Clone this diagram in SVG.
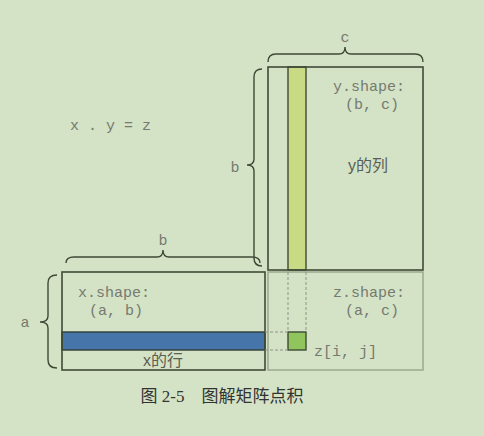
<svg xmlns="http://www.w3.org/2000/svg" width="484" height="436" viewBox="0 0 484 436">
<style>
.mat{fill:none;stroke:#3f4a36;stroke-width:1.6}
.brace{fill:none;stroke:#3f4a36;stroke-width:1.4}
.dash{fill:none;stroke:#8c9683;stroke-width:1;stroke-dasharray:3,2}
.mono{font-family:"Liberation Mono","DejaVu Sans Mono",monospace;font-size:15px;fill:#767a70}
.cjk{font-family:"Liberation Sans","Noto Sans CJK SC",sans-serif;font-size:16px;fill:#5a5e55}
.cap{font-family:"Liberation Serif","Noto Sans CJK SC",serif;font-size:17px;fill:#333}
</style>
<rect x="0" y="0" width="484" height="436" fill="#d4e3c6"/>
<text class="mono" x="70" y="130">x . y = z</text>
<g id="y">
<rect x="288" y="67" width="18" height="203" fill="#c8da84" stroke="#3f4a36" stroke-width="1.4"/>
<rect class="mat" x="268" y="67" width="155" height="203"/>
<text class="mono" x="333" y="91">y.shape:</text>
<text class="mono" x="345" y="109">(b, c)</text>
<text class="cjk" x="368" y="171" text-anchor="middle">y的列</text>
</g>
<g id="z">
<rect x="268" y="272" width="155" height="98" fill="none" stroke="#97a48c" stroke-width="1.4"/>
<rect x="288" y="332" width="18" height="18" fill="#90c45c" stroke="#3f4a36" stroke-width="1.4"/>
<text class="mono" x="333" y="297">z.shape:</text>
<text class="mono" x="345" y="315">(a, c)</text>
<text class="mono" x="314" y="356">z[i, j]</text>
</g>
<g id="x">
<rect x="62" y="332" width="203" height="18" fill="#4676a9" stroke="#2f3d36" stroke-width="1.4"/>
<rect class="mat" x="62" y="272" width="203" height="98"/>
<text class="mono" x="78" y="297">x.shape:</text>
<text class="mono" x="89" y="315">(a, b)</text>
<text class="cjk" x="163" y="366" text-anchor="middle">x的行</text>
</g>
<g id="connectors">
<path class="dash" d="M288 272V332M306 272V332M265 332H288M265 350H288"/>
<path class="brace" d="M268 62Q268 54 276 54H339Q345 54 345 47Q345 54 351 54H415Q423 54 423 62"/>
<path class="brace" d="M262 69Q254 69 254 77V159Q254 165 247 165Q254 165 254 171V258Q254 266 262 266"/>
<path class="brace" d="M66 263Q66 257 74 257H157Q163 257 163 250Q163 257 169 257H252Q260 257 260 263"/>
<path class="brace" d="M57 275Q48 275 48 283V316Q48 322 40 322Q48 322 48 328V360Q48 368 57 368"/>
</g>
<text class="mono" x="345" y="42" text-anchor="middle">c</text>
<text class="mono" x="235" y="172" text-anchor="middle">b</text>
<text class="mono" x="163" y="245" text-anchor="middle">b</text>
<text class="mono" x="25" y="327" text-anchor="middle">a</text>
<text class="cap" x="222" y="402" text-anchor="middle">图 2-5　图解矩阵点积</text>
</svg>
